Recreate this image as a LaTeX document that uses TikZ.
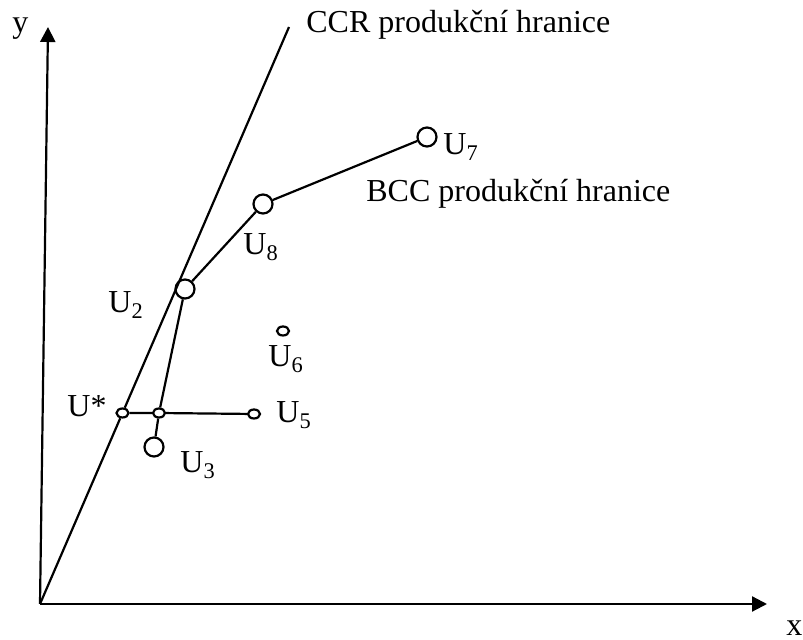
\documentclass[tikz,border=0pt]{standalone}
\usepackage{fontspec}
\setmainfont{Liberation Serif}
\usetikzlibrary{arrows.meta, shapes.geometric}

\tikzset{
  unit/.style={circle, draw, fill=white, line width=1.1pt, inner sep=0pt, minimum size=9.5pt},
  proj/.style={ellipse, draw, fill=white, line width=1.1pt, inner sep=0pt, minimum width=6pt, minimum height=4.5pt},
  lbl/.style={inner sep=0pt, anchor=base west, font=\fontsize{16}{19}\selectfont},
  edge/.style={line width=1.1pt},
  axis/.style={line width=1.1pt, -{Triangle[length=7.5pt, width=7.5pt]}}
}

\begin{document}
\begin{tikzpicture}[x=0.5pt, y=-0.5pt]
\useasboundingbox (0,0) rectangle (803,640);

% axes
\coordinate (O) at (40,604);
\coordinate (ytip) at (48,27);
\coordinate (xtip) at (767,604);
\coordinate (ccrtop) at (289,27);
\draw[axis] (O) -- (ytip);
\draw[axis] (O) -- (xtip);

% units
\node[unit] (U2) at (185,289) {};
\node[unit] (U8) at (263,204) {};
\node[unit] (U7) at (427,137) {};
\node[unit] (U3) at (154,447) {};
\node[proj] (Ustar) at (122.5,413) {};
\node[proj] (Umid) at (159,413) {};
\node[proj] (U5) at (254,414) {};
\node[proj] (U6) at (283,331) {};

% frontiers
\draw[edge] (O) -- (Ustar) -- (ccrtop);
\draw[edge] (U2) -- (U8) -- (U7);
\draw[edge] (U2) -- (Umid) -- (U3);
\draw[edge] (Ustar) -- (Umid) -- (U5);

% labels
\node[lbl] (ly) at (12,33) {y};
\node[lbl] (lx) at (786,635) {x};
\node[lbl] (lccr) at (306,33) {CCR produkční hranice};
\node[lbl] (lbcc) at (366,202) {BCC produkční hranice};
\node[lbl] (lU7) at (443,155) {U\textsubscript{7}};
\node[lbl] (lU8) at (243,255) {U\textsubscript{8}};
\node[lbl] (lU2) at (108,313) {U\textsubscript{2}};
\node[lbl] (lU6) at (268,367) {U\textsubscript{6}};
\node[lbl] (lU5) at (276,423) {U\textsubscript{5}};
\node[lbl] (lU3) at (180,473) {U\textsubscript{3}};
\node[lbl] (lUstar) at (67,417) {U*};
\end{tikzpicture}
\end{document}
